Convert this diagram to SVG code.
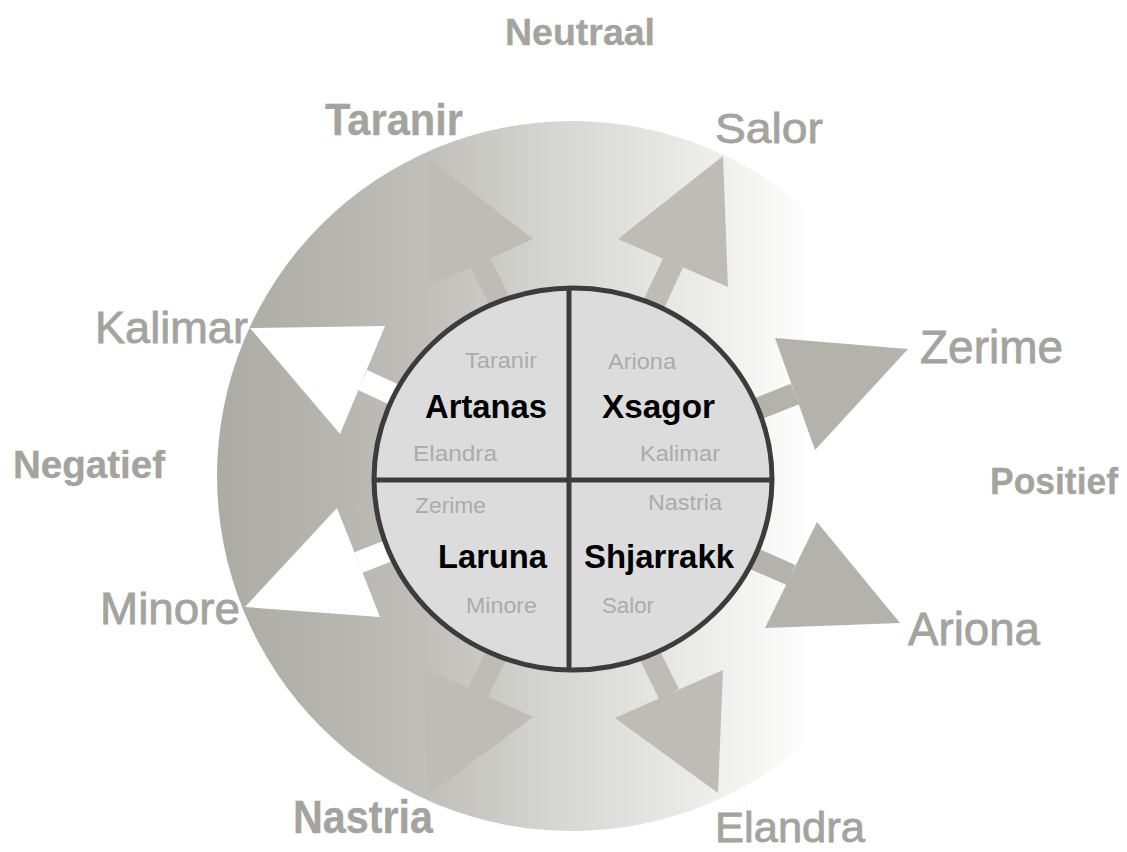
<svg xmlns="http://www.w3.org/2000/svg" width="1127" height="852" viewBox="0 0 1127 852">
  <defs>
    <linearGradient id="ringGrad" gradientUnits="userSpaceOnUse" x1="218" y1="0" x2="815" y2="0">
      <stop offset="0" stop-color="#acaba4"/>
      <stop offset="0.15" stop-color="#b3b2ab"/>
      <stop offset="0.35" stop-color="#c0bfb9"/>
      <stop offset="0.55" stop-color="#d4d4d0"/>
      <stop offset="0.75" stop-color="#e6e6e4"/>
      <stop offset="0.9" stop-color="#f5f5f4"/>
      <stop offset="1" stop-color="#ffffff"/>
    </linearGradient>
    <style>
      .outer { font-family: "Liberation Sans", Arial, sans-serif; fill: #a4a39d; stroke: #a4a39d; stroke-width: 0.8; }
      .b { font-weight: bold; stroke-width: 0.3; }
      .small { font-family: "Liberation Sans", Arial, sans-serif; font-size: 22.5px; fill: #ababab; }
      .name { font-family: "Liberation Sans", Arial, sans-serif; font-size: 32.5px; font-weight: bold; fill: #000000; }
      .arrowMid { fill: #bdbcb5; }
      .arrowSide { fill: #b3b2ab; }
      .arrowWhite { fill: #ffffff; }
      .divider { stroke: #3c3c3c; stroke-width: 5; fill: none; }
    </style>
  </defs>
  <rect x="0" y="0" width="1127" height="852" fill="#ffffff"/>

  <!-- background ring -->
  <g id="background">
    <circle cx="572" cy="476" r="355" fill="url(#ringGrad)"/>
  </g>

  <!-- connectors -->
  <g id="connectors">
    <!-- Taranir -->
    <polygon class="arrowMid" points="428,158 533,239 428,287"/>
    <polygon class="arrowMid" points="490.3,258.1 512.7,302.8 493.1,312.6 470.7,267.9"/>
    <!-- Salor -->
    <polygon class="arrowMid" points="723,156 728,287 618,239"/>
    <polygon class="arrowMid" points="683,267.6 661.8,312.9 641.8,303.6 663,258.3"/>
    <!-- Zerime -->
    <polygon class="arrowSide" points="908,349 815,450 775,338"/>
    <polygon class="arrowSide" points="799.1,404.2 752.6,422.7 744.4,402.3 790.9,383.8"/>
    <!-- Ariona -->
    <polygon class="arrowSide" points="900,623 765,628 817,522"/>
    <polygon class="arrowSide" points="795.4,564.9 749.6,544.7 740.8,564.9 786.6,585.1"/>
    <!-- Nastria -->
    <polygon class="arrowMid" points="428,795 423,668 533,717"/>
    <polygon class="arrowMid" points="487.9,697.3 509.8,652.3 490,642.7 468.1,687.7"/>
    <!-- Elandra -->
    <polygon class="arrowMid" points="718,793 615,718 723,670"/>
    <polygon class="arrowMid" points="678.9,689.1 656.7,644.3 636.9,654.1 659.1,698.9"/>
    <!-- Kalimar (white) -->
    <polygon class="arrowWhite" points="250,328 385,326 340,434"/>
    <polygon class="arrowWhite" points="367.1,370 412.5,391 403.3,411 357.9,390"/>
    <!-- Minore (white) -->
    <polygon class="arrowWhite" points="245,607 337,508 380,617"/>
    <polygon class="arrowWhite" points="362.5,572.7 409.1,554.4 401.1,534 354.5,552.3"/>
  </g>

  <!-- central circle -->
  <g id="center-circle">
    <ellipse cx="573" cy="479" rx="199" ry="191" fill="#dcdcdd" stroke="#3c3c3c" stroke-width="5"/>
    <line class="divider" x1="569" y1="288" x2="569" y2="670"/>
    <line class="divider" x1="374" y1="480" x2="772" y2="480"/>
  </g>

  <g id="node-artanas">
    <text class="small" x="465" y="368" textLength="72" lengthAdjust="spacingAndGlyphs">Taranir</text>
    <text class="name" x="425" y="418" textLength="122" lengthAdjust="spacingAndGlyphs">Artanas</text>
    <text class="small" x="413" y="461" textLength="84" lengthAdjust="spacingAndGlyphs">Elandra</text>
  </g>
  <g id="node-xsagor">
    <text class="small" x="608" y="369" textLength="68" lengthAdjust="spacingAndGlyphs">Ariona</text>
    <text class="name" x="602" y="418" textLength="113" lengthAdjust="spacingAndGlyphs">Xsagor</text>
    <text class="small" x="640" y="461" textLength="80" lengthAdjust="spacingAndGlyphs">Kalimar</text>
  </g>
  <g id="node-laruna">
    <text class="small" x="415" y="513" textLength="71" lengthAdjust="spacingAndGlyphs">Zerime</text>
    <text class="name" x="438" y="568" textLength="109" lengthAdjust="spacingAndGlyphs">Laruna</text>
    <text class="small" x="466" y="613" textLength="71" lengthAdjust="spacingAndGlyphs">Minore</text>
  </g>
  <g id="node-shjarrakk">
    <text class="small" x="648" y="510" textLength="74" lengthAdjust="spacingAndGlyphs">Nastria</text>
    <text class="name" x="584" y="568" textLength="150" lengthAdjust="spacingAndGlyphs">Shjarrakk</text>
    <text class="small" x="602" y="613" textLength="52" lengthAdjust="spacingAndGlyphs">Salor</text>
  </g>

  <!-- outer labels -->
  <g id="label-neutraal"><text class="outer b" x="505" y="45" font-size="36" textLength="150" lengthAdjust="spacingAndGlyphs">Neutraal</text></g>
  <g id="label-negatief"><text class="outer b" x="13" y="478" font-size="39" textLength="152" lengthAdjust="spacingAndGlyphs">Negatief</text></g>
  <g id="label-positief"><text class="outer b" x="990" y="494" font-size="36" textLength="128" lengthAdjust="spacingAndGlyphs">Positief</text></g>
  <g id="label-taranir"><text class="outer b" x="325" y="135" font-size="44" textLength="138" lengthAdjust="spacingAndGlyphs">Taranir</text></g>
  <g id="label-salor"><text class="outer" x="715" y="143" font-size="43" textLength="108" lengthAdjust="spacingAndGlyphs">Salor</text></g>
  <g id="label-kalimar"><text class="outer" x="95" y="343" font-size="44" textLength="153" lengthAdjust="spacingAndGlyphs">Kalimar</text></g>
  <g id="label-zerime"><text class="outer" x="920" y="363" font-size="46" textLength="143" lengthAdjust="spacingAndGlyphs">Zerime</text></g>
  <g id="label-minore"><text class="outer" x="100" y="624" font-size="44" textLength="140" lengthAdjust="spacingAndGlyphs">Minore</text></g>
  <g id="label-ariona"><text class="outer" x="908" y="645" font-size="46" textLength="132" lengthAdjust="spacingAndGlyphs">Ariona</text></g>
  <g id="label-nastria"><text class="outer b" x="293" y="833" font-size="46" textLength="140" lengthAdjust="spacingAndGlyphs">Nastria</text></g>
  <g id="label-elandra"><text class="outer" x="715" y="842" font-size="42" textLength="150" lengthAdjust="spacingAndGlyphs">Elandra</text></g>
</svg>
